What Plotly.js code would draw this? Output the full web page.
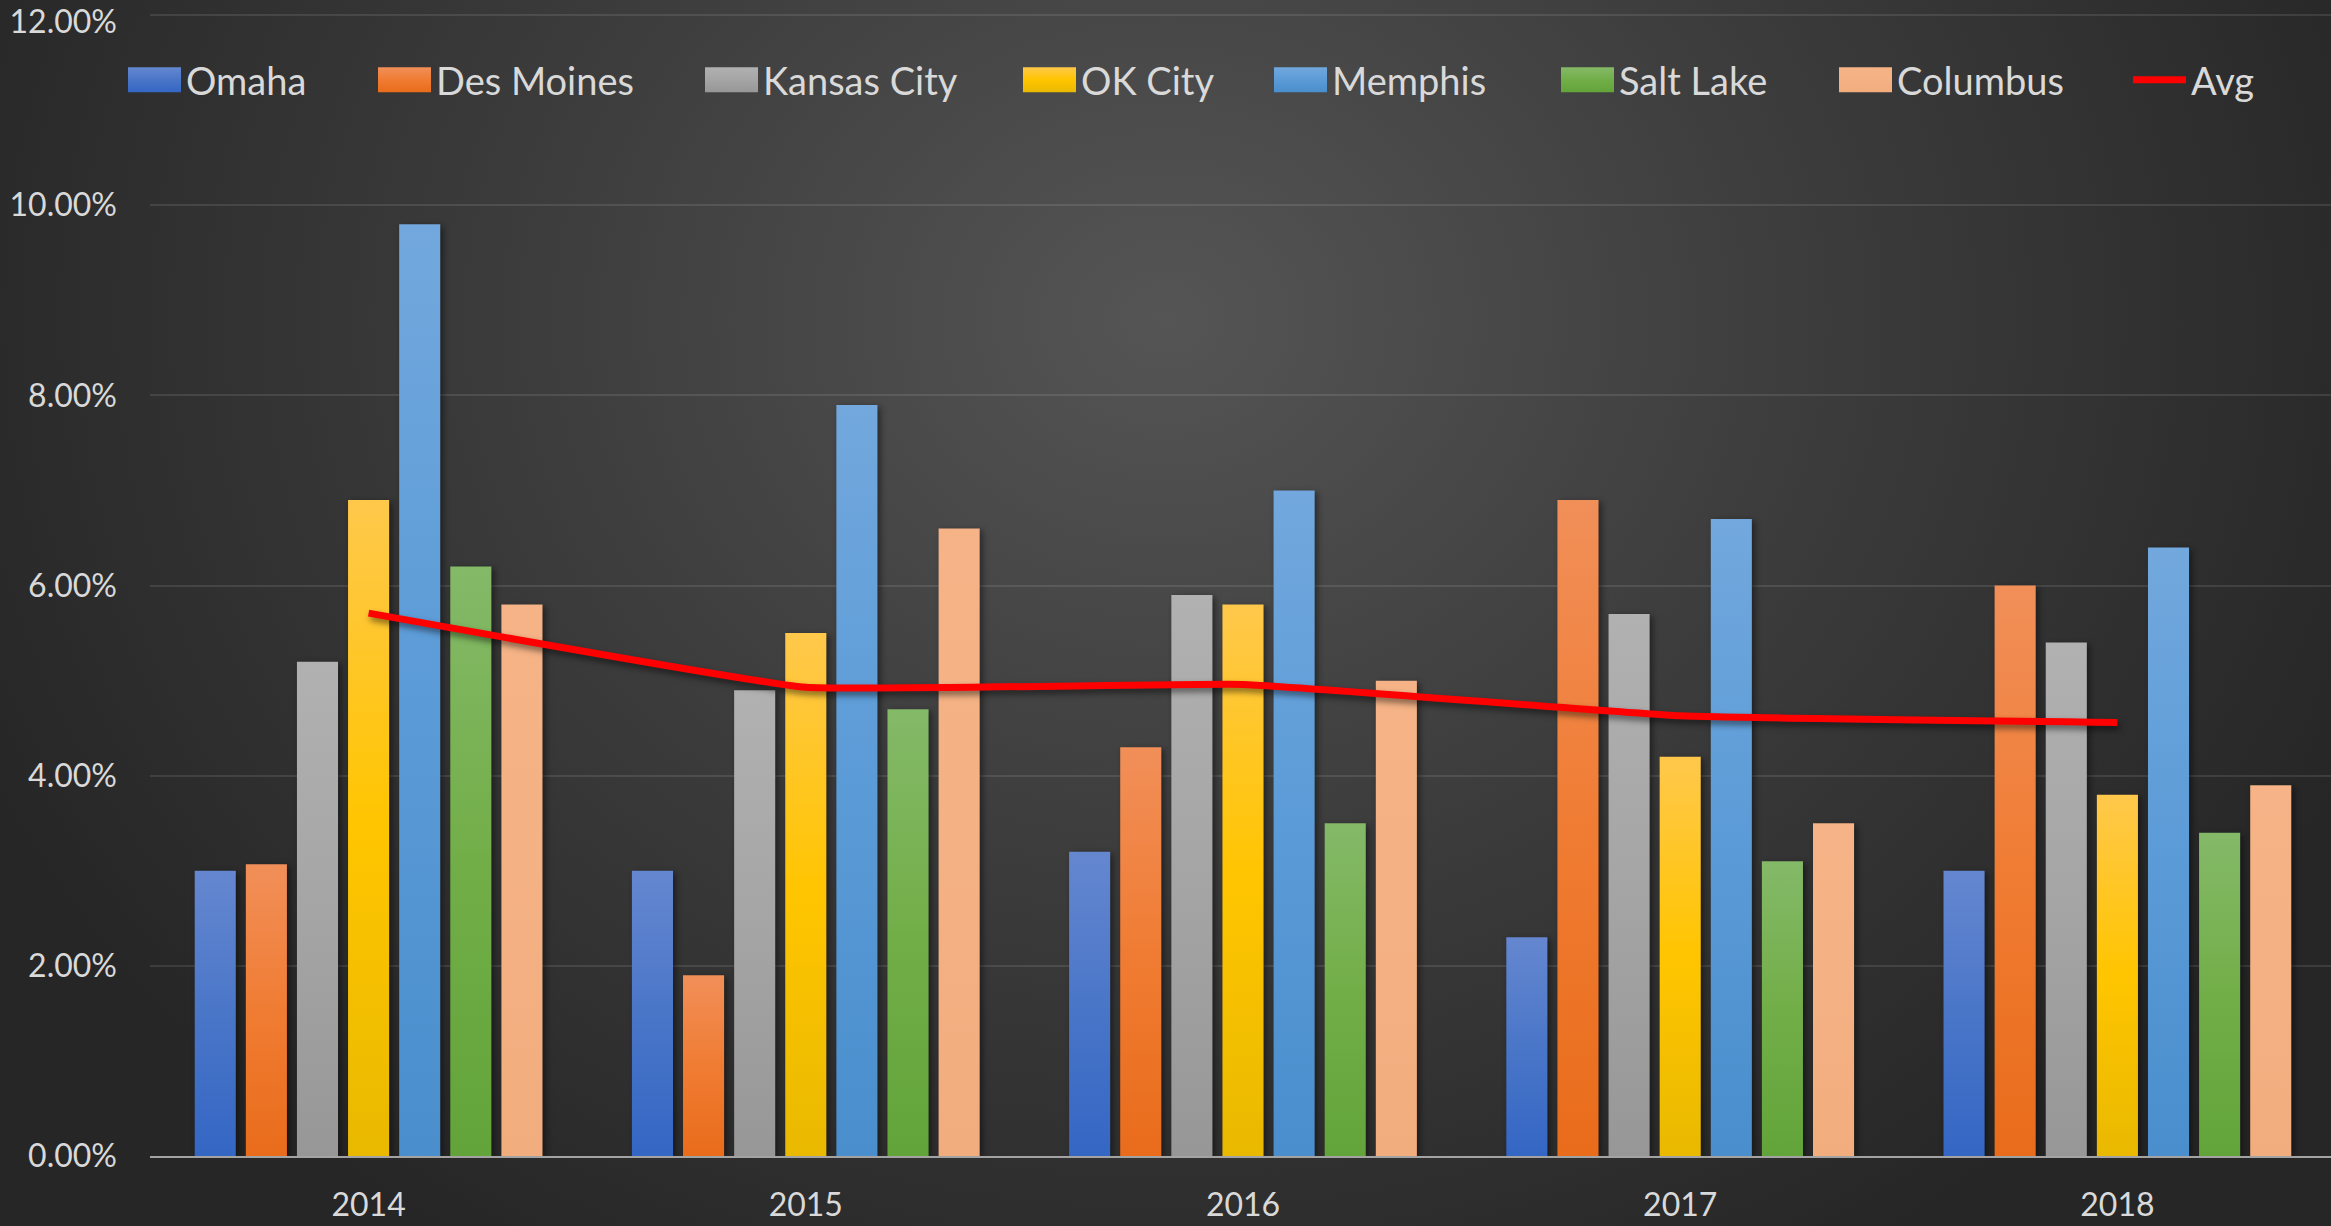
<!DOCTYPE html>
<html>
<head>
<meta charset="utf-8">
<script src="https://cdn.plot.ly/plotly-3.0.1.min.js"></script>
<style>
  html, body { margin:0; padding:0; width:2331px; height:1226px; overflow:hidden;
    background: radial-gradient(ellipse 1300px 1100px at 50% 26%, #555555 0%, #3c3c3c 50%, #262626 100%); }
  #chart { width:2336px; height:1226px; }
  #chart .barlayer .trace { filter: drop-shadow(3px 2px 3px rgba(0,0,0,0.45)); }
  #chart .scatterlayer .trace { filter: drop-shadow(2px 4px 3px rgba(0,0,0,0.5)); }
</style>
</head>
<body>
<div id="chart"></div>
<script>
// ---- data ----
const years = ['2014', '2015', '2016', '2017', '2018'];
const omaha     = [0.0300, 0.0300, 0.0320, 0.0230, 0.0300];
const desMoines = [0.0307, 0.0190, 0.0430, 0.0690, 0.0600];
const kansasCity= [0.0520, 0.0490, 0.0590, 0.0570, 0.0540];
const okCity    = [0.0690, 0.0550, 0.0580, 0.0420, 0.0380];
const memphis   = [0.0980, 0.0790, 0.0700, 0.0670, 0.0640];
const saltLake  = [0.0620, 0.0470, 0.0350, 0.0310, 0.0340];
const columbus  = [0.0580, 0.0660, 0.0500, 0.0350, 0.0390];
const avg       = [0.0571, 0.0493, 0.0496, 0.0463, 0.0456];
const seriesNames = ['Omaha', 'Des Moines', 'Kansas City', 'OK City', 'Memphis', 'Salt Lake', 'Columbus'];
const avgName = 'Avg';
const yTickVals = [0, 0.02, 0.04, 0.06, 0.08, 0.10, 0.12];

// ---- styles ----
const seriesColors = ['#4472C4', '#ED7D31', '#A5A5A5', '#FFC000', '#5B9BD5', '#70AD47', '#F4B183'];
// top / middle / bottom colours of each bar's vertical gradient
const seriesGradients = [
  ['#6587d0', '#4a76c8', '#3466c4'],
  ['#f18f59', '#f07c33', '#e96c1b'],
  ['#b1b1b1', '#a5a5a5', '#979797'],
  ['#ffc84b', '#ffc500', '#e9b900'],
  ['#72a8dd', '#5b9bd7', '#4a8ecd'],
  ['#84b968', '#72ae48', '#62a43a'],
  ['#f5b387', '#f4b183', '#f2ad7e']
];
const seriesValues = [omaha, desMoines, kansasCity, okCity, memphis, saltLake, columbus];
const legendLeftPx = [128, 378, 705, 1023, 1274, 1561, 1839, 2133]; // swatch left edges
const W = 2336, H = 1226;
const M = { l: 150, r: 0, t: 14, b: 70 };
const plotW = W - M.l - M.r, plotH = H - M.t - M.b;
const legendCenterPx = 80;
const topLabelNudge = 7; // keeps the top tick label inside the page
const textColor = '#d9d9d9';
const fontFamily = 'Lato, "Open Sans", sans-serif';

const legendKey = i => (i === 0 ? 'legend' : 'legend' + (i + 1));

const data = seriesValues.map((vals, i) => ({
  type: 'bar',
  x: years,
  y: vals,
  name: seriesNames[i],
  marker: { color: seriesColors[i], line: { width: 0 } },
  legend: legendKey(i),
  hoverinfo: 'skip'
}));
data.push({
  type: 'scatter',
  mode: 'lines',
  x: years,
  y: avg,
  name: avgName,
  line: { color: '#FF0000', width: 7, shape: 'spline', smoothing: 0.3 },
  legend: legendKey(7),
  hoverinfo: 'skip'
});

const layout = {
  width: W, height: H,
  margin: M,
  paper_bgcolor: 'rgba(0,0,0,0)',
  plot_bgcolor: 'rgba(0,0,0,0)',
  font: { family: fontFamily, color: textColor, size: 32 },
  barmode: 'group',
  bargap: 0.1816,
  bargroupgap: 0.196,
  showlegend: true,
  xaxis: {
    type: 'category',
    showgrid: false, zeroline: false,
    showline: true, linecolor: '#a3a3a3', linewidth: 2,
    ticks: '', ticklabelstandoff: 20,
    tickfont: { family: fontFamily, size: 32, color: textColor },
    fixedrange: true
  },
  yaxis: {
    range: [0, 0.12012],
    tickvals: yTickVals,
    tickformat: '.2%',
    ticklabeloverflow: 'allow',
    showgrid: true, gridcolor: 'rgba(255,255,255,0.10)', gridwidth: 2,
    zeroline: false, showline: false,
    ticks: '', ticklabelstandoff: 32,
    tickfont: { family: fontFamily, size: 32, color: textColor },
    fixedrange: true
  }
};

for (let i = 0; i < 8; i++) {
  layout[legendKey(i)] = {
    orientation: 'h',
    xref: 'paper', yref: 'paper',
    x: (legendLeftPx[i] - 5 - M.l) / plotW,
    xanchor: 'left',
    y: (H - M.b - legendCenterPx) / plotH,
    yanchor: 'middle',
    bgcolor: 'rgba(0,0,0,0)',
    borderwidth: 0,
    itemwidth: 53,
    font: { family: fontFamily, size: 38, color: textColor },
    itemclick: false, itemdoubleclick: false
  };
}

const SVGNS = 'http://www.w3.org/2000/svg';
function ensureGradients(gd) {
  const svg = gd.querySelector('svg.main-svg');
  if (!svg) return;
  let defs = svg.querySelector('defs');
  if (!defs) { defs = document.createElementNS(SVGNS, 'defs'); svg.insertBefore(defs, svg.firstChild); }
  seriesGradients.forEach((stops, i) => {
    const id = 'bargrad' + i;
    if (document.getElementById(id)) return;
    const lg = document.createElementNS(SVGNS, 'linearGradient');
    lg.setAttribute('id', id);
    lg.setAttribute('x1', '0'); lg.setAttribute('y1', '0');
    lg.setAttribute('x2', '0'); lg.setAttribute('y2', '1');
    [[0, stops[0]], [0.5, stops[1]], [1, stops[2]]].forEach(([o, c]) => {
      const s = document.createElementNS(SVGNS, 'stop');
      s.setAttribute('offset', String(o));
      s.setAttribute('stop-color', c);
      lg.appendChild(s);
    });
    defs.appendChild(lg);
  });
}
function traceOf(el) {
  let node = el;
  for (let k = 0; k < 4 && node; k++) {
    const d = node.__data__;
    if (d && d[0] && d[0].trace) return d[0].trace;
    if (d && d.trace) return d.trace;
    node = node.parentNode;
  }
  return null;
}
function restyleDom(gd) {
  try { ensureGradients(gd); } catch (e) {}
  try {
    gd.querySelectorAll('.barlayer .trace').forEach(g => {
      const tr = traceOf(g);
      if (!tr || tr.index >= seriesGradients.length) return;
      g.querySelectorAll('path').forEach(p => { p.style.fill = 'url(#bargrad' + tr.index + ')'; });
    });
  } catch (e) {}
  try {
    gd.querySelectorAll('.legendpoints path').forEach(p => {
      const tr = traceOf(p);
      if (!tr || tr.type !== 'bar') return;
      p.setAttribute('d', 'M26.5,12.5H-26.5V-12.5H26.5Z');
      if (tr.index < seriesGradients.length) p.style.fill = 'url(#bargrad' + tr.index + ')';
    });
  } catch (e) {}
  try {
    const topVal = yTickVals[yTickVals.length - 1];
    gd.querySelectorAll('.ytick text').forEach(t => {
      const d = t.__data__;
      const isTop = (d && typeof d.x === 'number') ? Math.abs(d.x - topVal) < 1e-9 : t.textContent === '12.00%';
      if (!isTop) return;
      const cur = t.getAttribute('transform') || '';
      if (t.getAttribute('data-shifted') === cur) return;
      const nt = cur + ' translate(0,' + topLabelNudge + ')';
      t.setAttribute('transform', nt);
      t.setAttribute('data-shifted', nt);
    });
  } catch (e) {}
}

Plotly.newPlot('chart', data, layout, { staticPlot: true, displayModeBar: false }).then(gd => {
  restyleDom(gd);
  gd.on('plotly_afterplot', () => restyleDom(gd));
  setTimeout(() => restyleDom(gd), 50);
  setTimeout(() => restyleDom(gd), 300);
});
</script>
</body>
</html>
